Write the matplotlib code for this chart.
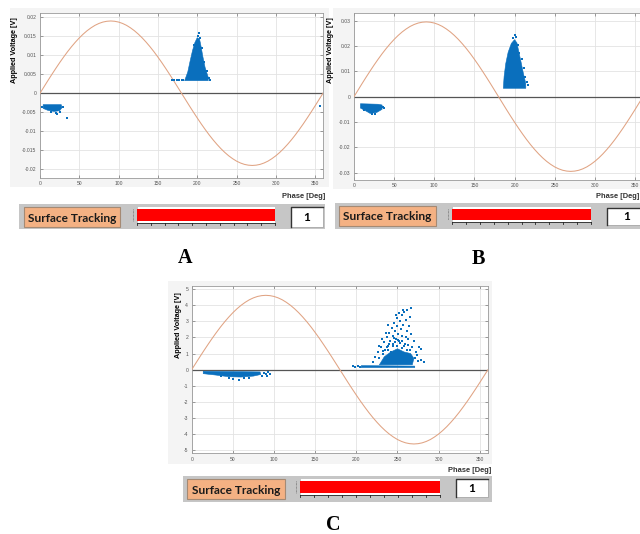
import matplotlib.pyplot as plt
from matplotlib.patches import Rectangle, Polygon

W, H = 640, 534
BLUE = '#0a6fbd'
WAVE = '#e0a383'

# reference sine read every 5 degrees over the first quarter (unit amplitude);
# the other quarters mirror it, then each recording scales it
phase = list(range(0, 361, 5))
quarter = [0, 0.087, 0.174, 0.259, 0.342, 0.423, 0.500, 0.574, 0.643, 0.707,
           0.766, 0.819, 0.866, 0.906, 0.940, 0.966, 0.985, 0.996, 1.000]
half = quarter + quarter[-2::-1]
wave_shape = half + [-v for v in half[1:]]
amp_a, amp_b, amp_c = 0.0190, 0.0295, 4.62

# --- recording A: dense PD clouds (outlines) and loose pulses (deg, V)
a_pos_core = [(184, 0.0033), (188, 0.0056), (191, 0.0085), (194, 0.0112), (197, 0.0133),
              (200, 0.0146), (203, 0.0142), (205, 0.0122), (207, 0.0098), (210, 0.0068),
              (214, 0.0042), (214, 0.0033)]
a_neg_core = [(4, -0.0030), (27, -0.0030), (28, -0.0038), (25, -0.0046), (18, -0.0048),
              (10, -0.0045), (4, -0.0040)]
a_sparse = [(168, 0.0034), (171, 0.0035), (174, 0.0034), (177, 0.0036), (180, 0.0035),
            (182, 0.0034), (202.5, 0.0158), (201, 0.0151), (204, 0.0145), (196, 0.0128),
            (206, 0.0120), (209, 0.0082), (212, 0.0058), (215, 0.0040), (216, 0.0036),
            (34, -0.0066), (22, -0.0055), (20, -0.0051), (26, -0.0050), (3, -0.0036),
            (356, -0.0033), (29, -0.0035), (14, -0.0049)]

# --- recording B
b_pos_core = [(186, 0.0033), (187, 0.0080), (189, 0.0130), (192, 0.0175), (196, 0.0210),
              (200, 0.0225), (203, 0.0212), (205, 0.0182), (208, 0.0138), (211, 0.0092),
              (214, 0.0052), (214, 0.0033)]
b_neg_core = [(8, -0.0028), (30, -0.0030), (35, -0.0033), (35, -0.0050), (28, -0.0063),
              (20, -0.0066), (14, -0.0055), (8, -0.0045)]
b_sparse = [(200.5, 0.0244), (202, 0.0236), (198, 0.0230), (204, 0.0202), (206, 0.0172),
            (209, 0.0150), (212, 0.0112), (213, 0.0076), (216, 0.0056), (217, 0.0045),
            (36, -0.0040), (37, -0.0046), (26, -0.0068), (22, -0.0070), (12, -0.0052)]

# --- recording C
c_neg_core = [(14, -0.10), (83, -0.14), (84, -0.30), (75, -0.40), (60, -0.46),
              (45, -0.44), (30, -0.34), (14, -0.25)]
c_pos_core = [(206, 0.13), (271, 0.13), (271, 0.22), (206, 0.25)]
c_blob_core = [(228, 0.30), (268, 0.30), (270, 0.70), (266, 1.00), (258, 1.10),
               (250, 1.30), (242, 1.10), (234, 0.80)]
c_sparse = [(88, -0.20), (90, -0.30), (93, -0.12), (95, -0.25), (86, -0.40), (58, -0.62),
            (50, -0.58), (63, -0.55), (45, -0.50), (91, -0.40), (36, -0.42), (70, -0.50),
            (196, 0.20), (199, 0.18), (202, 0.21), (204, 0.17),
            (220, 0.45), (223, 0.80), (226, 1.10), (228, 0.70), (230, 1.40), (232, 1.00),
            (234, 1.70), (235, 1.20), (237, 2.00), (238, 1.50), (240, 2.30), (241, 1.80),
            (242, 1.10), (243, 2.60), (244, 2.10), (245, 1.60), (246, 2.90), (247, 2.40),
            (248, 1.90), (249, 3.20), (250, 2.70), (251, 2.20), (252, 3.50), (252, 1.80),
            (253, 3.00), (254, 2.50), (255, 3.40), (256, 2.10), (257, 2.80), (258, 3.60),
            (259, 1.60), (260, 3.10), (261, 2.40), (262, 3.70), (263, 1.90), (264, 2.70),
            (266, 3.85), (265, 3.30), (267, 2.20), (268, 1.40), (270, 1.80), (272, 1.10),
            (274, 0.90), (276, 1.40), (278, 1.30), (279, 0.60), (282, 0.50), (275, 0.55),
            (271, 0.70), (236, 2.30), (239, 2.80), (248, 3.40), (257, 3.70), (231, 1.90),
            (227, 1.50), (237, 1.40), (240, 1.60), (244, 1.45), (247, 1.70), (249, 1.50),
            (253, 1.65), (255, 1.35), (258, 1.45), (261, 1.25), (263, 1.55), (246, 1.95),
            (251, 1.85), (256, 1.75), (239, 1.25), (233, 1.15), (265, 1.20), (260, 2.00)]

a_yticks = [-0.02, -0.015, -0.01, -0.005, 0, 0.005, 0.01, 0.015, 0.02]
b_yticks = [-0.03, -0.02, -0.01, 0, 0.01, 0.02, 0.03]
c_yticks = [-5, -4, -3, -2, -1, 0, 1, 2, 3, 4, 5]
x_ticks = [0, 50, 100, 150, 200, 250, 300, 350]
tracking_level = 1.0   # gauge fill fraction
phase_count = 1

plt.rcParams['font.family'] = ['Liberation Sans', 'DejaVu Sans']


def frac(x0, y0, x1, y1):
    return [x0 / W, 1 - y1 / H, (x1 - x0) / W, (y1 - y0) / H]


fig = plt.figure(figsize=(6.4, 5.34), dpi=100)
bg = fig.add_axes([0, 0, 1, 1])
bg.set_xlim(0, W)
bg.set_ylim(H, 0)
bg.axis('off')


def scope(box, ylim, yticks, amp, cores, sparse, ylab_xy, gray):
    gx0, gy0, gx1, gy1 = gray
    bg.add_patch(Rectangle((gx0, gy0), gx1 - gx0, gy1 - gy0, fc='#f4f4f4', ec='none'))
    ax = fig.add_axes(frac(*box))
    ax.set_facecolor('white')
    ax.set_xlim(0, 360)
    ax.set_ylim(*ylim)
    ax.set_xticks(x_ticks)
    ax.set_yticks(yticks)
    ax.set_yticklabels(['%g' % t for t in yticks])
    ax.grid(True, color='#e3e3e3', lw=0.6)
    ax.set_axisbelow(True)
    ax.tick_params(direction='in', length=2, width=0.5, labelsize=3.6,
                   labelcolor='#555555', color='#777777', pad=2.5,
                   top=True, right=True)
    for s in ax.spines.values():
        s.set_color('#9a9a9a')
        s.set_linewidth(0.6)
    ax.axhline(0, color='#555555', lw=0.9, zorder=2)
    ax.plot(phase, [amp * v for v in wave_shape], color=WAVE, lw=0.75, zorder=3)
    for poly in cores:
        ax.add_patch(Polygon(poly, closed=True, fc=BLUE, ec=BLUE, lw=0.4, zorder=4))
    ax.scatter([p[0] for p in sparse], [p[1] for p in sparse], s=0.9, marker='s',
               color=BLUE, lw=0, zorder=4)
    fig.text(ylab_xy[0] / W, 1 - ylab_xy[1] / H, 'Applied Voltage [V]', rotation=90,
             ha='center', va='center', fontsize=5.2, fontweight='bold')
    return ax


def status_bar(gray, orange, gauge, numbox, phase_xy, letter_xy):
    gx0, gy0, gx1, gy1 = gray
    bg.add_patch(Rectangle((gx0, gy0), gx1 - gx0, gy1 - gy0, fc='#c6c6c6', ec='none'))
    ox0, oy0, ox1, oy1 = orange
    bg.add_patch(Rectangle((ox0, oy0), ox1 - ox0, oy1 - oy0, fc='#f4b183',
                           ec='#a58a74', lw=0.8))
    bg.text((ox0 + ox1) / 2, (oy0 + oy1) / 2 + 1, 'Surface Tracking', ha='center',
            va='center', fontsize=8.6, fontweight='bold', family='Lato', color='#1a1a1a')
    wx0, wy0, wx1, wy1 = gauge
    bg.add_patch(Rectangle((wx0, wy0), wx1 - wx0, wy1 - wy0, fc='white', ec='#bbbbbb', lw=0.5))
    bg.add_patch(Rectangle((wx0, wy0 + 3), (wx1 - wx0) * tracking_level, wy1 - wy0 - 5.5,
                           fc='#ff0000', ec='none'))
    bg.plot([wx0, wx1], [wy1, wy1], color='#222222', lw=0.6)
    for i in range(11):
        tx = wx0 + i * (wx1 - wx0) / 10
        bg.plot([tx, tx], [wy1, wy1 + 1.8], color='#222222', lw=0.6)
    bg.plot([wx0 - 4, wx0 - 4], [wy0 + 3, wy1 - 2], color='#555555', lw=0.5, ls=(0, (1, 1)))
    nx0, ny0, nx1, ny1 = numbox
    bg.add_patch(Rectangle((nx0, ny0), nx1 - nx0, ny1 - ny0, fc='white', ec='#999999', lw=0.5))
    bg.plot([nx0, nx0, nx1], [ny1, ny0, ny0], color='#333333', lw=1.0)
    bg.text((nx0 + nx1) / 2, (ny0 + ny1) / 2 + 0.5, str(phase_count), ha='center',
            va='center', fontsize=8.5, fontweight='bold', family='Lato')
    bg.text(phase_xy[0], phase_xy[1], 'Phase [Deg]', ha='right', va='center',
            fontsize=5.4, fontweight='bold', color='#333333')
    bg.text(letter_xy[0], letter_xy[1], letter_xy[2], ha='center', va='center',
            fontsize=14.5, fontweight='bold', family='Liberation Serif')


scope((40, 13, 323, 178), (-0.0223, 0.0211), a_yticks, amp_a,
      [a_pos_core, a_neg_core], a_sparse, (15, 50), (10, 8, 329, 187))
scope((354, 13.3, 643, 180), (-0.0329, 0.0329), b_yticks, amp_b,
      [b_pos_core, b_neg_core], b_sparse, (330, 50), (333, 8, 640, 189))
scope((191.7, 286, 488, 453.3), (-5.2, 5.2), c_yticks, amp_c,
      [c_neg_core, c_pos_core, c_blob_core], c_sparse, (178, 325), (168, 281, 492, 464))

status_bar((19, 204, 325, 229), (24, 207, 120, 227), (137, 206, 275, 223),
           (291, 207, 323, 227), (325, 197), (185, 258, 'A'))
status_bar((335, 203, 640, 229), (339, 206, 436, 226), (452, 206, 591, 222),
           (607, 208, 646, 225), (639, 197), (478, 259, 'B'))
status_bar((183, 476, 492, 502), (187, 479, 285, 499), (300, 478, 440, 495),
           (456, 479, 488, 497), (491, 471), (333, 525, 'C'))

fig.savefig('out.png', dpi=100)
